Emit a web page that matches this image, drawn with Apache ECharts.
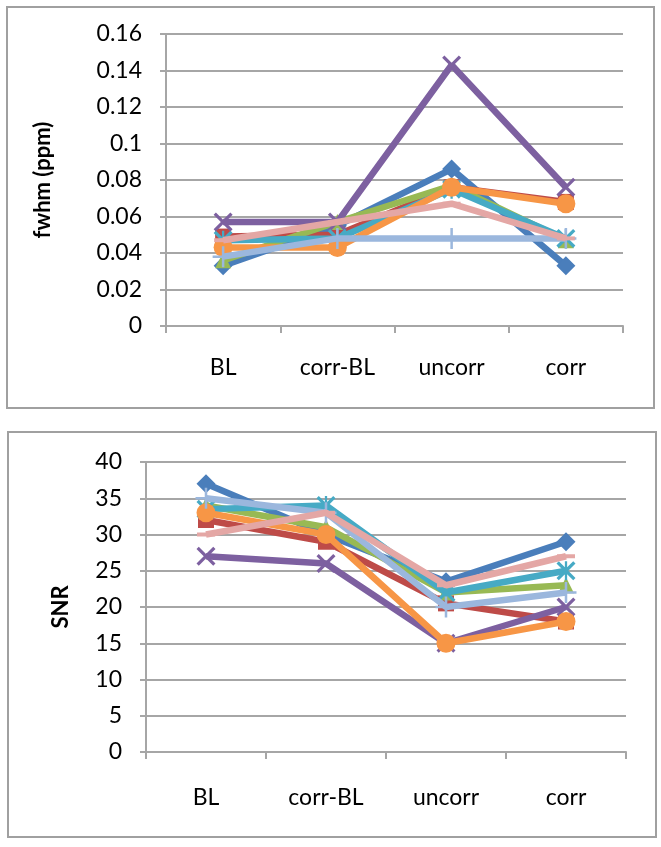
<!DOCTYPE html>
<html>
<head>
<meta charset="utf-8">
<script src="https://cdn.jsdelivr.net/npm/echarts@6/dist/echarts.min.js"></script>
<style>
html,body{margin:0;padding:0;background:#fff;}
#c{width:661px;height:847px;}
</style>
</head>
<body>
<div id="c"></div>
<script>
const categories = ['BL', 'corr-BL', 'uncorr', 'corr'];
const fwhmTicks = { min: 0, max: 0.16, interval: 0.02 };
const snrTicks = { min: 0, max: 40, interval: 5 };

// fwhm (ppm) per series
const fwhm1 = [0.033, 0.055, 0.086, 0.033];
const fwhm2 = [0.049, 0.050, 0.076, 0.068];
const fwhm3 = [0.036, 0.057, 0.077, 0.047];
const fwhm4 = [0.057, 0.057, 0.143, 0.076];
const fwhm5 = [0.047, 0.048, 0.075, 0.048];
const fwhm6 = [0.043, 0.043, 0.076, 0.067];
const fwhm7 = [0.038, 0.048, 0.048, 0.048];
const fwhm8 = [0.047, 0.057, 0.067, 0.048];

// SNR per series
const snr1 = [37, 30, 23.5, 29];
const snr2 = [32, 29, 20.5, 18];
const snr3 = [34, 31, 22, 23];
const snr4 = [27, 26, 15, 20];
const snr5 = [33.5, 34, 22, 25];
const snr6 = [33, 30, 15, 18];
const snr7 = [35, 33, 20, 22];
const snr8 = [30, 33, 23, 27];

const colors = ['#4A7EBB', '#BE4B48', '#98B954', '#7D60A0', '#46AAC5', '#F79646', '#9BB7DD', '#E4A7A5'];
const X = 'path://M0,1.2L1.2,0L5,3.8L8.8,0L10,1.2L6.2,5L10,8.8L8.8,10L5,6.2L1.2,10L0,8.8L3.8,5Z';
const STAR = 'path://M0,1.2L1.2,0L4.4,3.2V0H5.6V3.2L8.8,0L10,1.2L6.2,5L10,8.8L8.8,10L5.6,6.8V10H4.4V6.8L1.2,10L0,8.8L3.8,5Z';
const PLUS = 'path://M4.4,0H5.6V4.4H10V5.6H5.6V10H4.4V5.6H0V4.4H4.4Z';
const DASH = 'path://M0,0H10V2H0Z';
const symbols = ['diamond', 'rect', 'triangle', X, STAR, 'circle', PLUS, DASH];
const sizes = [19, 16, 16, 19, 19, 19, 21, [18, 4]];

const FONT = 'Lato';
const fwhmData = [fwhm1, fwhm2, fwhm3, fwhm4, fwhm5, fwhm6, fwhm7, fwhm8];
const snrData = [snr1, snr2, snr3, snr4, snr5, snr6, snr7, snr8];

function mkSeries(arr, gi) {
  return arr.map((d, i) => ({
    type: 'line', xAxisIndex: gi, yAxisIndex: gi, data: d,
    symbol: symbols[i], symbolSize: sizes[i], showAllSymbol: true,
    lineStyle: { color: colors[i], width: 6.5 },
    itemStyle: { color: colors[i] },
    emphasis: { disabled: true }, animation: false, z: 2 + i * 0.01
  }));
}

function xAxis(gi, margin) {
  return {
    type: 'category', gridIndex: gi, data: categories, boundaryGap: true,
    axisLine: { show: true, lineStyle: { color: '#A6A6A6', width: 2 } },
    axisTick: { show: true, length: 7, lineStyle: { color: '#A6A6A6', width: 2 } },
    axisLabel: { color: '#000', fontFamily: FONT, fontSize: 23, margin: margin },
    splitLine: { show: false }
  };
}
function yAxis(gi, t, name, gap, fmt) {
  return {
    type: 'value', gridIndex: gi, min: t.min, max: t.max, interval: t.interval,
    name: name, nameLocation: 'middle', nameGap: gap, nameRotate: 90, nameMoveOverlap: false,
    nameTextStyle: { color: '#000', fontFamily: FONT, fontSize: 22, fontWeight: 'bold' },
    axisLine: { show: true, lineStyle: { color: '#A6A6A6', width: 2 } },
    axisTick: { show: true, length: 6, lineStyle: { color: '#A6A6A6', width: 2 } },
    axisLabel: { color: '#000', fontFamily: FONT, fontSize: 23, margin: 24, formatter: fmt },
    splitLine: { show: true, lineStyle: { color: '#A6A6A6', width: 2 } }
  };
}

const chart = echarts.init(document.getElementById('c'), null, { renderer: 'canvas' });
chart.setOption({
  backgroundColor: '#fff',
  animation: false,
  graphic: [
    { type: 'rect', shape: { x: 7, y: 7, width: 647, height: 401 }, style: { fill: 'none', stroke: '#A0A0A0', lineWidth: 2 }, z: 0 },
    { type: 'rect', shape: { x: 8, y: 432, width: 648, height: 405 }, style: { fill: 'none', stroke: '#A0A0A0', lineWidth: 2 }, z: 0 }
  ],
  grid: [
    { left: 166, top: 34, right: 38, height: 292 },
    { left: 146, top: 462, right: 35, height: 290 }
  ],
  xAxis: [xAxis(0, 30), xAxis(1, 34)],
  yAxis: [
    yAxis(0, fwhmTicks, 'fwhm (ppm)', 112, v => String(+v.toFixed(2))),
    yAxis(1, snrTicks, 'SNR', 74, v => String(v))
  ],
  series: [...mkSeries(fwhmData, 0), ...mkSeries(snrData, 1)]
});
</script>
</body>
</html>
